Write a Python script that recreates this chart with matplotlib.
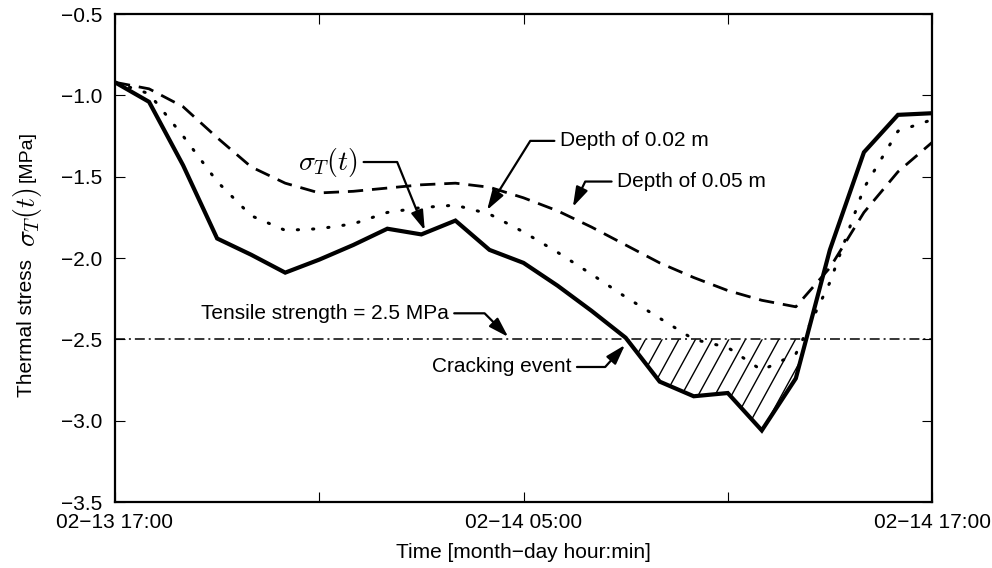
"""Thermal stress at the surface and at two depths over one day"""
import numpy as np
import pandas as pd
import matplotlib
matplotlib.use('Agg')
import matplotlib.pyplot as plt
from matplotlib.collections import LineCollection

# Hourly series, 02-13 17:00 .. 02-14 17:00
start = pd.Timestamp('2014-02-13 17:00')
hours = list(range(25))
sigma_surface = [-0.92, -1.04, -1.43, -1.88, -1.98, -2.09, -2.01, -1.92, -1.82, -1.855,
                 -1.77, -1.95, -2.03, -2.17, -2.325, -2.49, -2.76, -2.85, -2.83, -3.06,
                 -2.74, -1.95, -1.35, -1.12, -1.11]
sigma_002 = [-0.92, -0.99, -1.25, -1.53, -1.74, -1.83, -1.82, -1.79, -1.72, -1.69,
             -1.675, -1.73, -1.84, -1.965, -2.10, -2.24, -2.37, -2.50, -2.55, -2.69,
             -2.59, -2.15, -1.57, -1.22, -1.15]
sigma_005 = [-0.92, -0.96, -1.07, -1.26, -1.44, -1.54, -1.60, -1.59, -1.57, -1.55,
             -1.54, -1.565, -1.63, -1.71, -1.81, -1.92, -2.03, -2.12, -2.20, -2.26,
             -2.30, -2.06, -1.72, -1.47, -1.29]
tensile_strength = -2.5
tick_hours = [0, 6, 12, 18, 24]
label_hours = [0, 12, 24]

plt.rcParams['font.family'] = ['Liberation Sans', 'DejaVu Sans']
plt.rcParams['mathtext.fontset'] = 'cm'


def at(h):
    return start + pd.Timedelta(hours=h)


times = [at(h) for h in hours]
surface = np.array(sigma_surface)

fig = plt.figure(figsize=(9.92, 5.68), dpi=100)
ax = fig.add_axes([115 / 992, 66 / 568, 817 / 992, 488 / 568])

ax.plot(times, sigma_005, color='black', lw=2.0, linestyle=(0, (5.5, 3.2)))
ax.plot(times, sigma_002, color='black', lw=2.2, linestyle=(0, (0.4, 4.6)),
        dash_capstyle='round')
ax.plot(times, sigma_surface, color='black', lw=3.0, solid_joinstyle='miter')
ax.axhline(tensile_strength, color='black', lw=1.1,
           linestyle=(0, (6.5, 2.6, 1.3, 2.6)))

# cracking zone: slanted hatch clipped to the area under the strength line
zone = ax.fill_between(times, sigma_surface, tensile_strength,
                       where=surface < tensile_strength, interpolate=True,
                       facecolor='none', edgecolor='none')
slope = 3.06
segs = [[(x0, 0), (x0 + 1 / slope, 1)] for x0 in np.arange(-0.5, 1.05, 0.0204)]
hatch = LineCollection(segs, colors='black', linewidths=1.0, transform=ax.transAxes)
hatch.set_clip_path(zone.get_paths()[0], transform=ax.transData)
ax.add_collection(hatch)

ax.set_xlim(at(0), at(24))
ax.set_ylim(-3.5, -0.5)
ax.set_yticks(np.arange(-3.5, -0.49, 0.5))
ax.set_xticks([at(h) for h in tick_hours])
ax.set_xticklabels([at(h).strftime('%m\u2212%d %H:%M') if h in label_hours else ''
                    for h in tick_hours])
ax.tick_params(direction='in', top=True, right=True, length=7, width=0.8,
               labelsize=15)
ax.tick_params(axis='x', pad=8)
ax.tick_params(axis='y', pad=9)
for s in ax.spines.values():
    s.set_linewidth(1.6)

ax.set_xlabel('Time [month\u2212day hour:min]', fontsize=15, labelpad=8)

arrow = dict(arrowstyle='-|>,head_length=0.8,head_width=0.25', color='black',
             lw=1.6, shrinkA=2, shrinkB=0, mutation_scale=15)

ax.annotate(r'$\sigma_T(t)$', xy=(at(9.1), -1.83), xytext=(at(5.38), -1.41),
            fontsize=20, ha='left', va='center',
            arrowprops=dict(arrow, relpos=(1, 0.5),
                            connectionstyle='angle,angleA=0,angleB=112,rad=0'))
ax.annotate('Depth of 0.02 m', xy=(at(10.93), -1.705), xytext=(at(13.07), -1.28),
            fontsize=15, ha='left', va='center',
            arrowprops=dict(arrow, relpos=(0, 0.5),
                            connectionstyle='angle,angleA=0,angleB=58,rad=0'))
ax.annotate('Depth of 0.05 m', xy=(at(13.45), -1.686), xytext=(at(14.75), -1.53),
            fontsize=15, ha='left', va='center',
            arrowprops=dict(arrow, relpos=(0, 0.5),
                            connectionstyle='angle,angleA=0,angleB=64,rad=0'))
ax.annotate('Tensile strength = 2.5 MPa', xy=(at(11.55), -2.485),
            xytext=(at(2.52), -2.34), fontsize=15, ha='left', va='center',
            arrowprops=dict(arrow, relpos=(1, 0.5),
                            connectionstyle='angle,angleA=0,angleB=135,rad=0'))
ax.annotate('Cracking event', xy=(at(14.98), -2.535), xytext=(at(9.31), -2.67),
            fontsize=15, ha='left', va='center',
            arrowprops=dict(arrow, relpos=(1, 0.5),
                            connectionstyle='angle,angleA=0,angleB=48,rad=0'))

# y label built from three pieces so the symbol can be set larger
fig.canvas.draw()
renderer = fig.canvas.get_renderer()
parts = [('Thermal stress', 15), (r'$\sigma_T(t)$', 20), ('[MPa]', 14)]
gaps = [12, 5, 0]
texts, total = [], 0
for (s, size), g in zip(parts, gaps):
    t = fig.text(27 / 992, 0, s, rotation=90, fontsize=size, ha='center', va='bottom')
    h = t.get_window_extent(renderer).height
    texts.append((t, h, g))
    total += h + g
y = 264 + total / 2
for t, h, g in texts:
    t.set_y((568 - y) / 568)
    y -= h + g

fig.savefig('out.png', dpi=100)
